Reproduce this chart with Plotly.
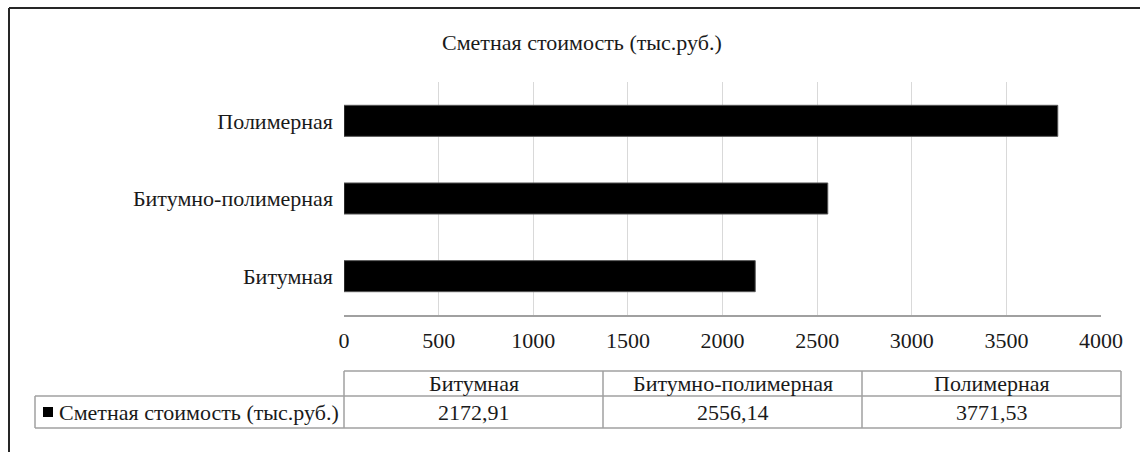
import plotly.graph_objects as go

# Cost estimate by waterproofing type (thousand roubles)
categories = ["Битумная", "Битумно-полимерная", "Полимерная"]
costs = [2172.91, 2556.14, 3771.53]
series_name = "Сметная стоимость (тыс.руб.)"
x_ticks = [0, 500, 1000, 1500, 2000, 2500, 3000, 3500, 4000]

W, H = 1140, 452
PL, PR, PT, PB = 344, 1101, 82, 315  # plot area in pixels

FONT = "Liberation Serif"
FS = 22
GRID = "#d9d9d9"
LINE = "#a0a0a0"
TXT = "#1a1a1a"


def px(x):
    return (x - PL) / (PR - PL)


def py(y):
    return (PB - y) / (PB - PT)


fig = go.Figure(
    go.Bar(
        y=categories,
        x=costs,
        orientation="h",
        name=series_name,
        marker=dict(color="#000000", line=dict(color="#555555", width=1)),
        showlegend=False,
    )
)

fig.update_layout(
    width=W,
    height=H,
    margin=dict(l=PL, r=W - PR, t=PT, b=H - PB),
    paper_bgcolor="white",
    plot_bgcolor="white",
    bargap=0.6,
    font=dict(family=FONT, size=FS, color=TXT),
    xaxis=dict(
        range=[0, 4000],
        tickvals=x_ticks,
        ticktext=[str(v) for v in x_ticks],
        showgrid=True,
        gridcolor=GRID,
        gridwidth=1,
        zeroline=False,
        showline=True,
        linecolor=LINE,
        linewidth=1.5,
        ticks="",
        ticklabelstandoff=5,
        tickfont=dict(family=FONT, size=FS, color=TXT),
    ),
    yaxis=dict(
        categoryorder="array",
        categoryarray=categories,
        showgrid=False,
        zeroline=False,
        showline=False,
        ticks="",
        ticklabelstandoff=10,
        tickfont=dict(family=FONT, size=FS, color=TXT),
    ),
)

shapes = []
annotations = []

# Chart title
annotations.append(dict(
    x=px(582), y=py(42), xref="paper", yref="paper",
    text=series_name, showarrow=False,
    xanchor="center", yanchor="middle",
    font=dict(family=FONT, size=FS, color=TXT),
))

# Outer frame (left and top edges)
shapes.append(dict(type="line", xref="paper", yref="paper",
                   x0=px(9), x1=px(9), y0=py(8), y1=py(460),
                   line=dict(color="#262626", width=2)))
shapes.append(dict(type="line", xref="paper", yref="paper",
                   x0=px(9), x1=px(1150), y0=py(8), y1=py(8),
                   line=dict(color="#262626", width=2)))

# Data table below the chart
T_TOP, T_MID, T_BOT = 371, 396, 428
T_LEFT, T_RIGHT, LBL_LEFT = 344, 1121, 35
col_w = (T_RIGHT - T_LEFT) / len(categories)


def hline(x0, x1, y):
    shapes.append(dict(type="line", xref="paper", yref="paper",
                       x0=px(x0), x1=px(x1), y0=py(y), y1=py(y),
                       line=dict(color=LINE, width=1.5)))


def vline(x, y0, y1):
    shapes.append(dict(type="line", xref="paper", yref="paper",
                       x0=px(x), x1=px(x), y0=py(y0), y1=py(y1),
                       line=dict(color=LINE, width=1.5)))


hline(T_LEFT, T_RIGHT, T_TOP)
hline(LBL_LEFT, T_RIGHT, T_MID)
hline(LBL_LEFT, T_RIGHT, T_BOT)
vline(LBL_LEFT, T_MID, T_BOT)
for i in range(len(categories) + 1):
    vline(T_LEFT + i * col_w, T_TOP, T_BOT)

for i, (cat, val) in enumerate(zip(categories, costs)):
    cx = T_LEFT + (i + 0.5) * col_w
    annotations.append(dict(
        x=px(cx), y=py((T_TOP + T_MID) / 2), xref="paper", yref="paper",
        text=cat, showarrow=False, xanchor="center", yanchor="middle",
        font=dict(family=FONT, size=FS, color=TXT),
    ))
    annotations.append(dict(
        x=px(cx), y=py((T_MID + T_BOT) / 2), xref="paper", yref="paper",
        text=f"{val:.2f}".replace(".", ","), showarrow=False,
        xanchor="center", yanchor="middle",
        font=dict(family=FONT, size=FS, color=TXT),
    ))

# Legend key and series name in the table's row header
shapes.append(dict(type="rect", xref="paper", yref="paper",
                   x0=px(43), x1=px(53), y0=py(407), y1=py(417),
                   fillcolor="#000000", line=dict(width=0)))
annotations.append(dict(
    x=px(57), y=py((T_MID + T_BOT) / 2), xref="paper", yref="paper",
    text=series_name, showarrow=False, xanchor="left", yanchor="middle",
    font=dict(family=FONT, size=FS, color=TXT),
))

fig.update_layout(shapes=shapes, annotations=annotations)
fig.write_html("out.html")
